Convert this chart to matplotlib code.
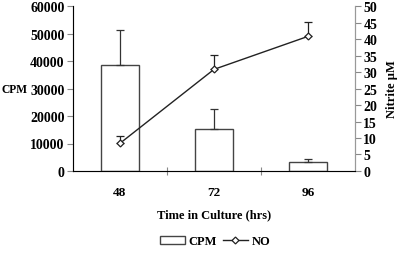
import numpy as np
import matplotlib.pyplot as plt
from matplotlib.lines import Line2D
from matplotlib.patches import Patch

times = ["48", "72", "96"]
cpm = [38700, 15300, 3200]
cpm_err = [12700, 7200, 1200]
nitrite = [8.4, 30.8, 40.8]
nitrite_err = [2.2, 4.3, 4.4]

plt.rcParams['font.family'] = ['Liberation Serif', 'DejaVu Serif']
plt.rcParams['font.weight'] = 'bold'

fig = plt.figure(figsize=(4, 2.55), dpi=100)
ax = fig.add_axes([0.1825, 0.3255, 0.705, 0.647])
x = np.arange(len(times)) + 0.5

ax.bar(x, cpm, width=0.41, facecolor='white', edgecolor='#444444', lw=1.0,
       yerr=[np.zeros(3), cpm_err], error_kw=dict(ecolor='#333333', elinewidth=0.9, capsize=3, capthick=0.9))
ax.set_xlim(0, 3)
ax.set_ylim(0, 60000)
ax.set_yticks(range(0, 60001, 10000))
ax.set_xticks([1, 2])
ax.set_xticklabels([])
ax.set_xticks(x, minor=True)
ax.set_xticklabels(times, minor=True)
ax.tick_params(axis='x', which='minor', length=0, pad=11, labelsize=9.5)
ax.tick_params(axis='x', which='major', direction='inout', length=6, color='#888888')
ax.tick_params(axis='y', direction='out', length=4, color='#888888', labelsize=10, pad=2)
ax.spines['top'].set_visible(False)
for s in ['left', 'bottom', 'right']:
    ax.spines[s].set_color('#999999')
    ax.spines[s].set_linewidth(0.8)
ax.set_xlabel('Time in Culture (hrs)', fontsize=9, fontweight='bold', labelpad=7)
fig.text(0.003, 0.648, 'CPM', fontsize=8.3, fontweight='bold', ha='left', va='center')

ax2 = ax.twinx()
ax2.errorbar(x, nitrite, yerr=[np.zeros(3), nitrite_err], color='#222222', lw=1.0,
             marker='D', markersize=3.5, markerfacecolor='white', markeredgecolor='#222222',
             markeredgewidth=0.9, ecolor='#222222', elinewidth=0.9, capsize=3, capthick=0.9)
ax2.set_ylim(0, 50)
ax2.set_yticks(range(0, 51, 5))
ax2.tick_params(axis='y', direction='out', length=4, color='#888888', labelsize=10, pad=2)
ax2.spines['top'].set_visible(False)
ax2.spines['right'].set_color('#999999')
ax2.spines['right'].set_linewidth(0.8)
ax2.set_ylabel('Nitrite \u00b5M', fontsize=9, fontweight='bold', labelpad=6)

handles = [Patch(facecolor='white', edgecolor='#444444', lw=1.0),
           Line2D([], [], color='#222222', lw=1.0, marker='D', markersize=3.5,
                  markerfacecolor='white', markeredgewidth=0.9)]
fig.legend(handles, ['CPM', 'NO'], loc='center', bbox_to_anchor=(0.5375, 0.05), ncol=2, frameon=False,
           fontsize=9, handlelength=2.0, handletextpad=0.3, columnspacing=0.5)

fig.savefig('out.png', dpi=100)
